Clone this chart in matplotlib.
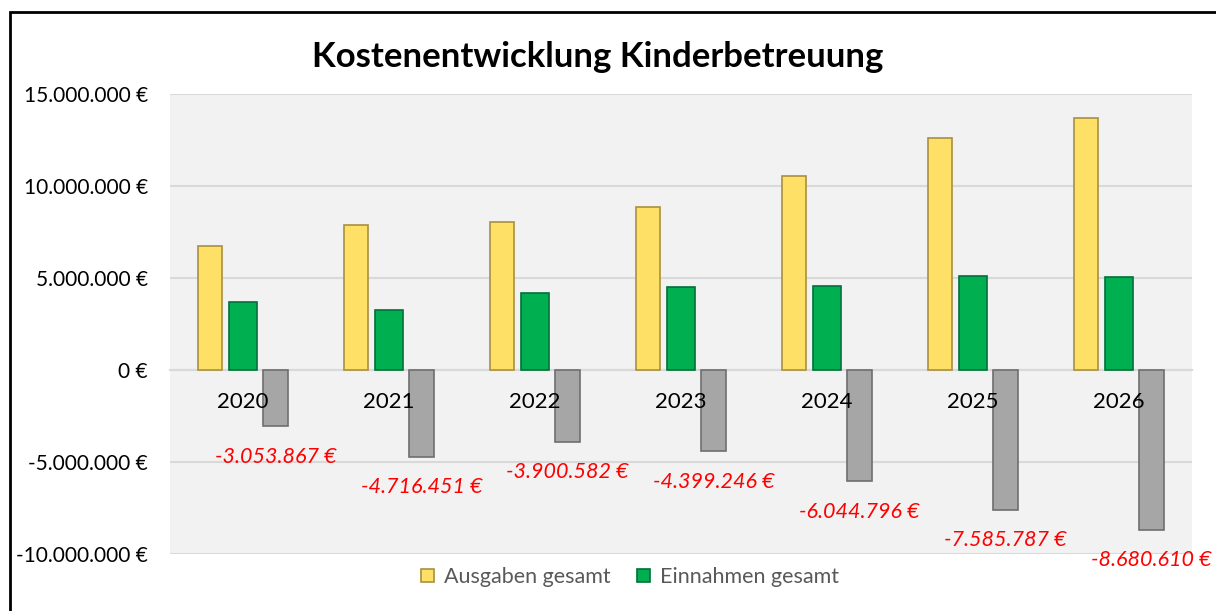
import numpy as np
import matplotlib
matplotlib.use("Agg")
import matplotlib.pyplot as plt
from matplotlib.patches import Rectangle
from matplotlib.ticker import FuncFormatter


# =========================
# Daten
# =========================

jahre = ["2020", "2021", "2022", "2023", "2024", "2025", "2026"]
ausgaben = [6.74e6, 7.88e6, 8.04e6, 8.86e6, 10.54e6, 12.62e6, 13.72e6]
einnahmen = [3.70e6, 3.26e6, 4.18e6, 4.49e6, 4.57e6, 5.12e6, 5.05e6]
saldo = [-3053867, -4716451, -3900582, -4399246, -6044796, -7585787, -8680610]

titel = "Kostenentwicklung Kinderbetreuung"


def euro(v, pos=None):
    s = f"{v:,.0f}".replace(",", ".")
    return f"{s} €"


plt.rcParams["font.family"] = ["Lato", "DejaVu Sans"]

fig = plt.figure(figsize=(12.16, 6.11), dpi=100)
ax = fig.add_axes([170 / 1216, 1 - 554 / 611, 1022 / 1216, 460 / 611])
ax.set_facecolor("#F2F2F2")

x = np.arange(len(jahre))

b1 = ax.bar(x - 0.226, ausgaben, width=0.17, color="#FFE066",
            edgecolor="#A89040", linewidth=1.2, label="Ausgaben gesamt", zorder=3)
b2 = ax.bar(x, einnahmen, width=0.19, color="#00B050",
            edgecolor="#00703A", linewidth=1.2, label="Einnahmen gesamt", zorder=3)
b3 = ax.bar(x + 0.222, saldo, width=0.17, color="#A6A6A6",
            edgecolor="#6E6E6E", linewidth=1.2, zorder=3)

# rote Beschriftung unter den Saldo-Balken
for xi, v in zip(x, saldo):
    ax.annotate(euro(v), (xi + 0.222, v), xytext=(0, -22), textcoords="offset points",
                ha="center", va="center", color="red", style="italic", fontsize=15.5,
                annotation_clip=False, zorder=5)

ax.set_xlim(-0.5, len(jahre) - 0.5)
ax.set_ylim(-10e6, 15e6)
ax.set_yticks(np.arange(-10e6, 15e6 + 1, 5e6))
ax.yaxis.set_major_formatter(FuncFormatter(euro))
ax.grid(axis="y", color="#D9D9D9", linewidth=1.5, zorder=0)

ax.set_xticks(x)
ax.set_xticklabels(jahre)
ax.xaxis.set_zorder(4)
ax.spines["bottom"].set_position(("data", 0))
ax.spines["bottom"].set_color("#D9D9D9")
ax.spines["bottom"].set_linewidth(1.5)
ax.spines["bottom"].set_zorder(2)
for s in ["top", "left", "right"]:
    ax.spines[s].set_visible(False)
ax.tick_params(axis="x", length=0, pad=16, labelsize=16, labelcolor="black")
ax.tick_params(axis="y", length=0, pad=16, labelsize=15, labelcolor="black")

fig.text(598 / 1216, 1 - 57 / 611, titel, ha="center", va="center",
         fontsize=25, fontweight="bold")

fig.legend(handles=[b1, b2], loc="center", bbox_to_anchor=(630 / 1216, 1 - 577 / 611),
           ncol=2, frameon=False, fontsize=15.5, labelcolor="#595959",
           handlelength=0.6, handleheight=0.6, handletextpad=0.5, columnspacing=1.2)

# Rahmen
fig.patches.append(Rectangle((10 / 1216, -0.1), 1.2, 1 - 12 / 611 + 0.1,
                             transform=fig.transFigure, fill=False,
                             edgecolor="black", linewidth=2))

fig.savefig("out.png", dpi=100)
